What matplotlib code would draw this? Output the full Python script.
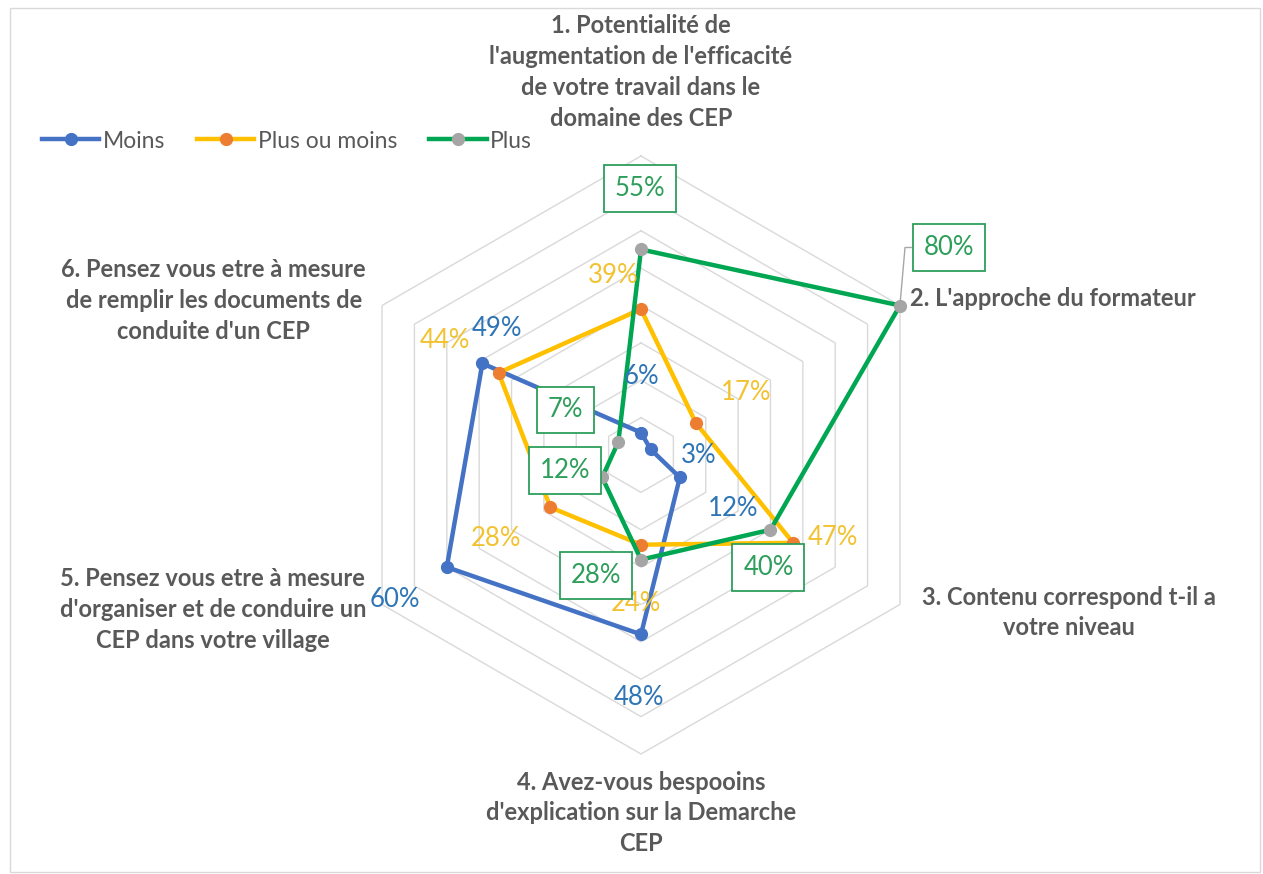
import numpy as np
import matplotlib
matplotlib.use("Agg")
import matplotlib.pyplot as plt
from matplotlib.lines import Line2D
from matplotlib.patches import Rectangle

plt.rcParams['font.family'] = ['Lato', 'DejaVu Sans']

# ---------------- data ----------------
categories = [
    "1. Potentialité de\nl'augmentation de l'efficacité\nde votre travail dans le\ndomaine des CEP",
    "2. L'approche du formateur",
    "3. Contenu correspond t-il a\nvotre niveau",
    "4. Avez-vous bespooins\nd'explication sur la Demarche\nCEP",
    "5. Pensez vous etre à mesure\nd'organiser et de conduire un\nCEP dans votre village",
    "6. Pensez vous etre à mesure\nde remplir les documents de\nconduite d'un CEP",
]
series_names = ["Moins", "Plus ou moins", "Plus"]
moins = [0.06, 0.03, 0.12, 0.48, 0.60, 0.49]
plus_ou_moins = [0.39, 0.17, 0.47, 0.24, 0.28, 0.44]
plus = [0.55, 0.80, 0.40, 0.28, 0.12, 0.07]
ring_levels = [0.1, 0.2, 0.3, 0.4, 0.5, 0.6, 0.7, 0.8]

# ---------------- style ----------------
line_colors = ['#4472C4', '#FFC000', '#00A651']
marker_colors = ['#4472C4', '#ED7D31', '#A5A5A5']
label_colors = ['#2E75B6', '#F2C230', '#2E9E5B']
boxed = [False, False, True]
# label offsets in pixels (dx right, dy down) for each series / category
label_offsets = [
    [(0, -56), (48, 6), (53, 31), (-2, 63), (-52, 32), (15, -35)],
    [(-28, -34), (50, -31), (40, -5), (-5, 59), (-54, 31), (-54, -32)],
    [(-1, -61), (49, -58), (-2, 38), (-45, 16), (-37, -7), (-53, -32)],
]
# category label placement relative to outer vertex: (dx, dy down, ha)
cat_offsets = [
    (0, -84, 'center'),
    (10, -7, 'left'),
    (22, 8, 'left'),
    (0, 59, 'center'),
    (-16, 5, 'right'),
    (-16, -5, 'right'),
]
text_gray = '#595959'

W, H = 1263, 874
fig = plt.figure(figsize=(W / 100, H / 100), dpi=100)
fig.patch.set_facecolor('white')
fig.add_artist(Rectangle((10 / W, 2 / H), 1250 / W, 864 / H, transform=fig.transFigure,
                         fill=False, edgecolor='#D9D9D9', lw=1))

cx, cy, R = 641, 455, 299
ax = fig.add_axes([(cx - R) / W, (H - cy - R) / H, 2 * R / W, 2 * R / H], projection='polar')
ax.set_theta_offset(np.pi / 2)
ax.set_theta_direction(-1)
ax.set_ylim(0, ring_levels[-1])
ax.grid(False)
ax.set_xticks([])
ax.set_yticks([])
ax.spines['polar'].set_visible(False)
ax.set_facecolor('none')

n = len(categories)
angles = np.arange(n) * 2 * np.pi / n
ang_c = np.concatenate([angles, angles[:1]])

for r in ring_levels:
    ax.plot(ang_c, [r] * (n + 1), color='#D9D9D9', lw=1.0, zorder=1, clip_on=False)

all_series = [moins, plus_ou_moins, plus]
for i, vals in enumerate(all_series):
    v = np.concatenate([vals, vals[:1]])
    ax.plot(ang_c, v, color=line_colors[i], lw=3.2, zorder=3 + i, clip_on=False,
            solid_joinstyle='round')
    ax.plot(angles, vals, linestyle='none', marker='o', markersize=8.5,
            markerfacecolor=marker_colors[i], markeredgecolor=marker_colors[i],
            zorder=3.5 + i, clip_on=False)

for i, vals in enumerate(all_series):
    for j, val in enumerate(vals):
        dx, dy = label_offsets[i][j]
        kw = dict(ha='center', va='center', fontsize=18.5, color=label_colors[i],
                  textcoords='offset pixels', zorder=10, annotation_clip=False)
        if boxed[i]:
            kw['bbox'] = dict(boxstyle='square,pad=0.42', facecolor='white',
                              edgecolor=label_colors[i], lw=1.3)
        if boxed[i] and j == 1:
            kw['arrowprops'] = dict(arrowstyle='-', color='#A6A6A6', lw=1,
                                    connectionstyle='angle,angleA=0,angleB=85,rad=0',
                                    shrinkA=0, shrinkB=4)
        ax.annotate(f"{round(val * 100)}%", xy=(angles[j], val), xytext=(dx, -dy), **kw)

# category labels, placed relative to the outer ring vertices
for j, txt in enumerate(categories):
    dx, dy, ha = cat_offsets[j]
    ax.annotate(txt, xy=(angles[j], ring_levels[-1]), xytext=(dx, -dy),
                textcoords='offset pixels', ha=ha, va='center', multialignment='center',
                fontsize=17, fontweight='bold', color=text_gray, linespacing=1.42,
                annotation_clip=False)

handles = [Line2D([0], [0], color=line_colors[i], lw=3.2, marker='o', markersize=8.5,
                  markerfacecolor=marker_colors[i], markeredgecolor=marker_colors[i])
           for i in range(3)]
leg = fig.legend(handles, series_names, loc='center left',
                 bbox_to_anchor=(42 / W, 1 - 141 / H), ncol=3, frameon=False,
                 fontsize=16.5, handlelength=2.5, handletextpad=0.15, columnspacing=1.4,
                 borderpad=0, borderaxespad=0)
for t in leg.get_texts():
    t.set_color(text_gray)

fig.savefig('out.png', dpi=100, facecolor='white')
